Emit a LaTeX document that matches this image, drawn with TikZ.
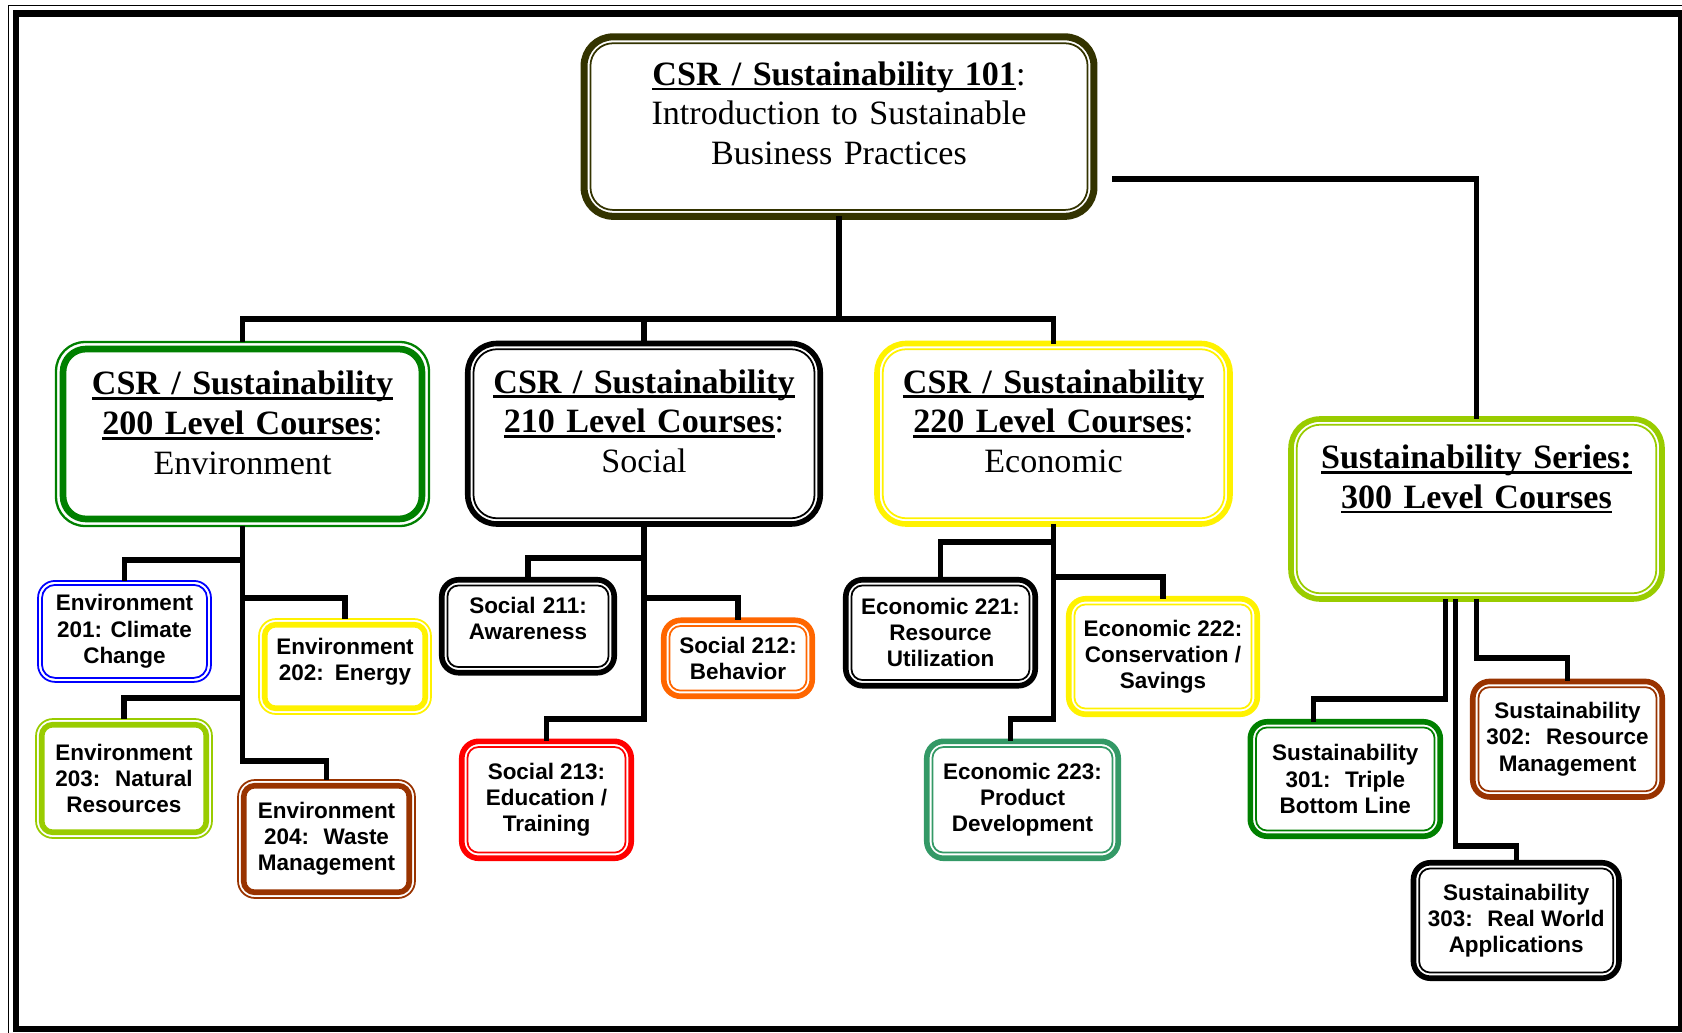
\documentclass[tikz,border=0pt]{standalone}
\usepackage{fontspec}
\setmainfont{Liberation Serif}
\setsansfont{Liberation Sans}
\usepackage{tikz}
\definecolor{olivedark}{RGB}{51,51,0}
\definecolor{envgreen}{RGB}{0,128,0}
\definecolor{limegreen}{RGB}{153,204,0}
\definecolor{rustbrown}{RGB}{153,51,0}
\definecolor{socorange}{RGB}{255,102,0}
\definecolor{seagreen}{RGB}{51,153,102}
\usetikzlibrary{calc,positioning}

\newsavebox\titlebox
\newcommand{\titleline}[1]{\leavevmode\sbox\titlebox{#1}\rlap{\rule[-3pt]{\wd\titlebox}{1.6pt}}\usebox\titlebox}

\begin{document}
\begin{tikzpicture}[x=0.02cm, y=-0.02cm,
    level/.style={rectangle, rounded corners=0.58cm, fill=white, outer sep=0pt, inner sep=0pt, align=center, font=\fontsize{19.4}{22.6}\selectfont},
    course/.style={rectangle, rounded corners=0.34cm, fill=white, outer sep=0pt, inner sep=0pt, align=center, font=\sffamily\bfseries\fontsize{12.8}{14.9}\selectfont},
    link/.style={line width=3pt}
]
    \useasboundingbox (0,0) rectangle (1682,1033);

    % Frame
    \draw[line width=0.6pt] (8.8,5.5) rectangle (1700,1050);
    \draw[line width=3.7pt] (16,13.3) rectangle (1681,1029);

    % Introductory course
    \node[level, draw=olivedark, line width=4pt, minimum width=10.2cm, minimum height=3.59cm,
          text width=9.6cm, text height=0.964cm, text depth=2.626cm] (intro) at (839,126.6) {
        \titleline{\textbf{CSR / Sustainability 101}}:\\
        Introduction to Sustainable\\
        Business Practices
    };

    % Level courses
    \node[level, draw=envgreen, line width=1.3pt, minimum width=7.46cm, minimum height=3.68cm,
          text width=7cm, text height=1.054cm, text depth=2.626cm] (env) at (242.5,434) {
        \titleline{\textbf{CSR / Sustainability}}\\
        \titleline{\textbf{200 Level Courses}}:\\
        Environment
    };
    \node[level, draw=black, line width=3.2pt, minimum width=7.05cm, minimum height=3.61cm,
          text width=6.8cm, text height=0.99cm, text depth=2.62cm] (soc) at (644,433.75) {
        \titleline{\textbf{CSR / Sustainability}}\\
        \titleline{\textbf{210 Level Courses}}:\\
        Social
    };
    \node[level, draw=yellow, line width=3.2pt, minimum width=7.06cm, minimum height=3.61cm,
          text width=6.8cm, text height=0.99cm, text depth=2.62cm] (eco) at (1053.5,433.75) {
        \titleline{\textbf{CSR / Sustainability}}\\
        \titleline{\textbf{220 Level Courses}}:\\
        Economic
    };
    \node[level, draw=limegreen, line width=3.2pt, minimum width=7.42cm, minimum height=3.6cm,
          text width=7cm, text height=0.99cm, text depth=2.61cm] (series) at (1476.5,509) {
        \titleline{\textbf{Sustainability Series:}}\\
        \titleline{\textbf{300 Level Courses}}
    };

    % Environment courses
    \node[course, draw=blue, line width=1pt, minimum width=3.46cm, minimum height=2.02cm] (env201) at (124.5,631.4) {Environment\\201: Climate\\Change};
    \node[course, draw=yellow, line width=1pt, minimum width=3.44cm, minimum height=1.9cm,
          text width=3.2cm, text height=0.712cm, text depth=1.188cm] (env202) at (345,666.5) {Environment\\202: Energy};
    \node[course, draw=limegreen, line width=1pt, minimum width=3.52cm, minimum height=2.38cm] (env203) at (124,778.5) {Environment\\203:~ Natural\\Resources};
    \node[course, draw=rustbrown, line width=1pt, minimum width=3.54cm, minimum height=2.36cm] (env204) at (326.5,839) {Environment\\204:~ Waste\\Management};

    % Social courses
    \node[course, draw=black, line width=3.2pt, minimum width=3.45cm, minimum height=1.86cm,
          text width=3.2cm, text height=0.672cm, text depth=1.186cm] (soc211) at (528,626.25) {Social 211:\\Awareness};
    \node[course, draw=socorange, line width=3.2pt, minimum width=2.97cm, minimum height=1.52cm] (soc212) at (738,658.3) {Social 212:\\Behavior};
    \node[course, draw=red, line width=3.2pt, minimum width=3.39cm, minimum height=2.34cm] (soc213) at (546.5,799.8) {Social 213:\\Education /\\Training};

    % Economic courses
    \node[course, draw=black, line width=3.2pt, minimum width=3.79cm, minimum height=2.12cm] (eco221) at (940.5,632.75) {Economic 221:\\Resource\\Utilization};
    \node[course, draw=yellow, line width=3.2pt, minimum width=3.77cm, minimum height=2.31cm] (eco222) at (1163,656.5) {Economic 222:\\Conservation /\\Savings};
    \node[course, draw=seagreen, line width=3.2pt, minimum width=3.83cm, minimum height=2.34cm] (eco223) at (1022.5,799.8) {Economic 223:\\Product\\Development};

    % Series courses
    \node[course, draw=envgreen, line width=3.2pt, minimum width=3.8cm, minimum height=2.29cm] (ser301) at (1345.3,779) {Sustainability\\301:~ Triple\\Bottom Line};
    \node[course, draw=rustbrown, line width=3.2pt, minimum width=3.79cm, minimum height=2.31cm] (ser302) at (1567.5,739.2) {Sustainability\\302:~ Resource\\Management};
    \node[course, draw=black, line width=3.2pt, minimum width=4.11cm, minimum height=2.31cm] (ser303) at (1516.2,920.5) {Sustainability\\303:~ Real World\\Applications};

    % Inner frame lines
    \foreach \nd/\col/\lw/\off/\rad in {intro/olivedark/1pt/6.4/0.45cm, env/envgreen/3.8pt/7/0.46cm,
        soc/black/1pt/5.7/0.47cm, eco/yellow/1pt/5.7/0.47cm, series/limegreen/1pt/5.7/0.47cm,
        env201/blue/1pt/4/0.26cm, env202/yellow/3.2pt/5.7/0.22cm, env203/limegreen/3.2pt/5.7/0.22cm,
        env204/rustbrown/3.2pt/5.7/0.22cm, soc211/black/1pt/5.7/0.22cm, soc212/socorange/1pt/5.7/0.22cm,
        soc213/red/1pt/5.7/0.22cm, eco221/black/1pt/5.7/0.22cm, eco222/yellow/1pt/5.7/0.22cm,
        eco223/seagreen/1pt/5.7/0.22cm, ser301/envgreen/1pt/5.7/0.22cm, ser302/rustbrown/1pt/5.7/0.22cm,
        ser303/black/1pt/5.7/0.22cm}
        \draw[\col, line width=\lw, rounded corners=\rad] ($(\nd.south west)+(\off,-\off)$) rectangle ($(\nd.north east)+(-\off,\off)$);

    % Connectors
    \coordinate (split) at (839,319);
    \draw[link] (intro.south) -- (split) -| (env.north);
    \draw[link] (split) -| (soc.north);
    \draw[link] (split) -| (eco.north);
    \coordinate (seriesjoin) at (1112,179);
    \draw[link] (seriesjoin) -| (series.north);

    \draw[link] (env.south) -- (env.south |- 0,761) -| (env204.north);
    \draw[link] (env.south |- 0,560) -| (env201.north);
    \draw[link] (env.south |- 0,598) -| (env202.north);
    \draw[link] (env.south |- 0,698) -| (env203.north);

    \draw[link] (soc.south) -- (soc.south |- 0,719) -| (soc213.north);
    \draw[link] (soc.south |- 0,558) -| (soc211.north);
    \draw[link] (soc.south |- 0,598) -| (soc212.north);

    \draw[link] (eco.south) -- (eco.south |- 0,719) -| ($(eco223.north)+(-12,0)$);
    \draw[link] (eco.south |- 0,542) -| (eco221.north);
    \draw[link] (eco.south |- 0,577) -| (eco222.north);

    \draw[link] ($(series.south)+(-31,0)$) -- ++(0,100) -| ($(ser301.north)+(-32,0)$);
    \draw[link] ($(series.south)+(-21,0)$) -- ++(0,247) -| (ser303.north);
    \draw[link] (series.south) -- ++(0,59) -| (ser302.north);
\end{tikzpicture}
\end{document}
